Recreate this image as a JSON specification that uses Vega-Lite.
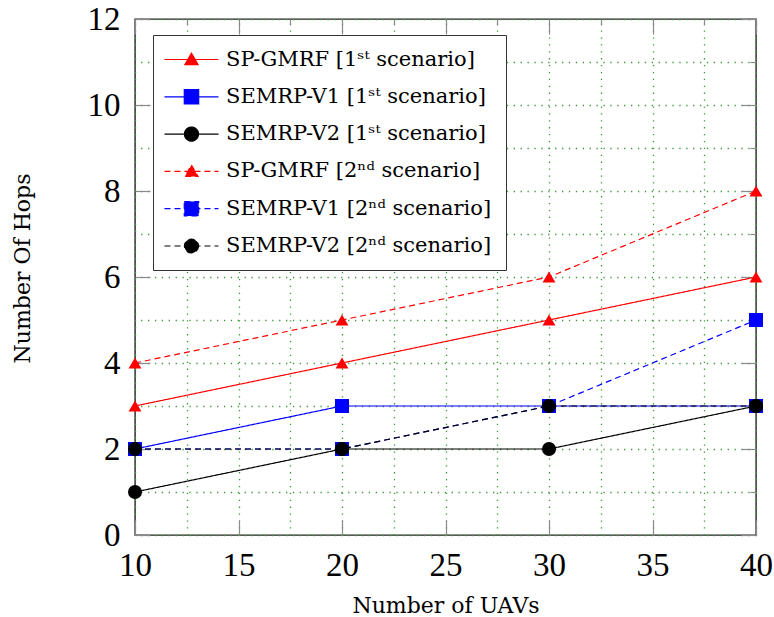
{
  "$schema": "https://vega.github.io/schema/vega-lite/v6.json",
  "width": 621,
  "height": 516,
  "autosize": {"type": "none"},
  "padding": {"left": 135, "top": 19, "right": 18, "bottom": 82},
  "background": "white",
  "config": {
    "view": {"stroke": "#222222", "strokeWidth": 1.4},
    "axis": {
      "domain": false,
      "labelFont": "Liberation Serif",
      "labelFontSize": 33,
      "labelColor": "black",
      "titleFont": "DejaVu Serif",
      "titleFontSize": 22,
      "titleFontWeight": "normal",
      "titleColor": "black",
      "tickColor": "#8a8a8a",
      "tickWidth": 1.2,
      "gridColor": "#3a9a3a",
      "gridDash": [1.3, 5.6],
      "gridWidth": 1.3,
      "gridOpacity": 1,
      "labelFlush": false,
      "labelOverlap": false
    }
  },
  "data": {
    "values": [
      {"uav": 10, "hops": 3, "series": "SP-GMRF [1ˢᵗ scenario]"},
      {"uav": 20, "hops": 4, "series": "SP-GMRF [1ˢᵗ scenario]"},
      {"uav": 30, "hops": 5, "series": "SP-GMRF [1ˢᵗ scenario]"},
      {"uav": 40, "hops": 6, "series": "SP-GMRF [1ˢᵗ scenario]"},
      {"uav": 10, "hops": 2, "series": "SEMRP-V1 [1ˢᵗ scenario]"},
      {"uav": 20, "hops": 3, "series": "SEMRP-V1 [1ˢᵗ scenario]"},
      {"uav": 30, "hops": 3, "series": "SEMRP-V1 [1ˢᵗ scenario]"},
      {"uav": 40, "hops": 3, "series": "SEMRP-V1 [1ˢᵗ scenario]"},
      {"uav": 10, "hops": 1, "series": "SEMRP-V2 [1ˢᵗ scenario]"},
      {"uav": 20, "hops": 2, "series": "SEMRP-V2 [1ˢᵗ scenario]"},
      {"uav": 30, "hops": 2, "series": "SEMRP-V2 [1ˢᵗ scenario]"},
      {"uav": 40, "hops": 3, "series": "SEMRP-V2 [1ˢᵗ scenario]"},
      {"uav": 10, "hops": 4, "series": "SP-GMRF [2ⁿᵈ scenario]"},
      {"uav": 20, "hops": 5, "series": "SP-GMRF [2ⁿᵈ scenario]"},
      {"uav": 30, "hops": 6, "series": "SP-GMRF [2ⁿᵈ scenario]"},
      {"uav": 40, "hops": 8, "series": "SP-GMRF [2ⁿᵈ scenario]"},
      {"uav": 10, "hops": 2, "series": "SEMRP-V1 [2ⁿᵈ scenario]"},
      {"uav": 20, "hops": 2, "series": "SEMRP-V1 [2ⁿᵈ scenario]"},
      {"uav": 30, "hops": 3, "series": "SEMRP-V1 [2ⁿᵈ scenario]"},
      {"uav": 40, "hops": 5, "series": "SEMRP-V1 [2ⁿᵈ scenario]"},
      {"uav": 10, "hops": 2, "series": "SEMRP-V2 [2ⁿᵈ scenario]"},
      {"uav": 20, "hops": 2, "series": "SEMRP-V2 [2ⁿᵈ scenario]"},
      {"uav": 30, "hops": 3, "series": "SEMRP-V2 [2ⁿᵈ scenario]"},
      {"uav": 40, "hops": 3, "series": "SEMRP-V2 [2ⁿᵈ scenario]"}
    ]
  },
  "encoding": {
    "color": {
      "field": "series",
      "type": "nominal",
      "scale": {
        "domain": ["SP-GMRF [1ˢᵗ scenario]", "SEMRP-V1 [1ˢᵗ scenario]", "SEMRP-V2 [1ˢᵗ scenario]", "SP-GMRF [2ⁿᵈ scenario]", "SEMRP-V1 [2ⁿᵈ scenario]", "SEMRP-V2 [2ⁿᵈ scenario]"],
        "range": ["#ff0000", "#0000ff", "#000000", "#ff0000", "#0000ff", "#000000"]
      },
      "legend": {
        "title": null,
        "orient": "none",
        "legendX": 18,
        "legendY": 16,
        "padding": 14,
        "strokeColor": "#333333",
        "fillColor": "white",
        "labelFont": "DejaVu Serif",
        "labelFontSize": 21,
        "labelColor": "black",
        "labelLimit": 400,
        "symbolSize": 144,
        "labelOffset": 38,
        "rowPadding": 15.3,
        "encode": {
          "symbols": {
            "update": {
              "shape": {"signal": "datum.index % 3 === 0 ? 'M-2.17,0L6.83,0M2.33,-1.05L3.43,0.85L1.23,0.85Z' : (datum.index % 3 === 1 ? 'M-2.17,0L6.83,0M1.13,-1.2L3.53,-1.2L3.53,1.2L1.13,1.2Z' : 'M-2.17,0L6.83,0M3.5,0A1.17,1.17 0 1,1 1.16,0A1.17,1.17 0 1,1 3.5,0Z')"},
              "fill": {"scale": "color", "field": "value"},
              "stroke": {"scale": "color", "field": "value"},
              "strokeDash": {"signal": "datum.index >= 3 ? [6,4] : [1,0]"},
              "strokeWidth": {"value": 1.2},
              "opacity": {"value": 1}
            }
          }
        }
      }
    }
  },
  "layer": [
    {
      "mark": {"type": "line", "strokeWidth": 1.2},
      "encoding": {
        "x": {
          "field": "uav", "type": "quantitative",
          "scale": {"domain": [10, 40], "nice": false, "zero": false},
          "axis": {"orient": "bottom", "values": [10, 15, 20, 25, 30, 35, 40], "grid": false, "tickSize": -15, "labelPadding": 55, "labelBaseline": "alphabetic", "title": "Number of UAVs", "titleY": 77, "titleBaseline": "alphabetic"}
        },
        "y": {
          "field": "hops", "type": "quantitative",
          "scale": {"domain": [0, 12], "nice": false},
          "axis": {"orient": "left", "values": [0, 2, 4, 6, 8, 10, 12], "grid": false, "tickSize": -15, "labelPadding": 30, "labelBaseline": "middle", "title": "Number Of Hops", "titleX": -106, "titleY": 249, "titleBaseline": "alphabetic", "titleAngle": -90}
        },
        "strokeDash": {
          "field": "series", "type": "nominal",
          "scale": {
            "domain": ["SP-GMRF [1ˢᵗ scenario]", "SEMRP-V1 [1ˢᵗ scenario]", "SEMRP-V2 [1ˢᵗ scenario]", "SP-GMRF [2ⁿᵈ scenario]", "SEMRP-V1 [2ⁿᵈ scenario]", "SEMRP-V2 [2ⁿᵈ scenario]"],
            "range": [[1, 0], [1, 0], [1, 0], [6, 4], [6, 4], [6, 4]]
          },
          "legend": null
        }
      }
    },
    {
      "transform": [{"filter": "indexof(datum.series, 'SP-GMRF') === 0"}],
      "mark": {"type": "point", "shape": "triangle-up", "filled": true, "opacity": 1, "size": 165},
      "encoding": {
        "x": {
          "field": "uav", "type": "quantitative",
          "axis": {"orient": "top", "values": [10, 12.5, 15, 17.5, 20, 22.5, 25, 27.5, 30, 32.5, 35, 37.5, 40], "grid": true, "labels": false, "title": null, "tickSize": {"condition": {"test": "datum.value % 5 === 0", "value": -15}, "value": -6}}
        },
        "y": {
          "field": "hops", "type": "quantitative",
          "axis": {"orient": "right", "values": [0, 1, 2, 3, 4, 5, 6, 7, 8, 9, 10, 11, 12], "grid": true, "labels": false, "title": null, "tickSize": {"condition": {"test": "datum.value % 2 === 0", "value": -15}, "value": -6}}
        }
      }
    },
    {
      "transform": [{"filter": "indexof(datum.series, 'SEMRP-V1') === 0"}],
      "mark": {"type": "point", "shape": "square", "filled": true, "opacity": 1, "size": 196},
      "encoding": {
        "x": {"field": "uav", "type": "quantitative", "axis": null},
        "y": {"field": "hops", "type": "quantitative", "axis": null}
      }
    },
    {
      "transform": [{"filter": "indexof(datum.series, 'SEMRP-V2') === 0"}],
      "mark": {"type": "point", "shape": "circle", "filled": true, "opacity": 1, "size": 196},
      "encoding": {
        "x": {"field": "uav", "type": "quantitative", "axis": null},
        "y": {"field": "hops", "type": "quantitative", "axis": null}
      }
    }
  ],
  "resolve": {"axis": {"x": "independent", "y": "independent"}}
}
